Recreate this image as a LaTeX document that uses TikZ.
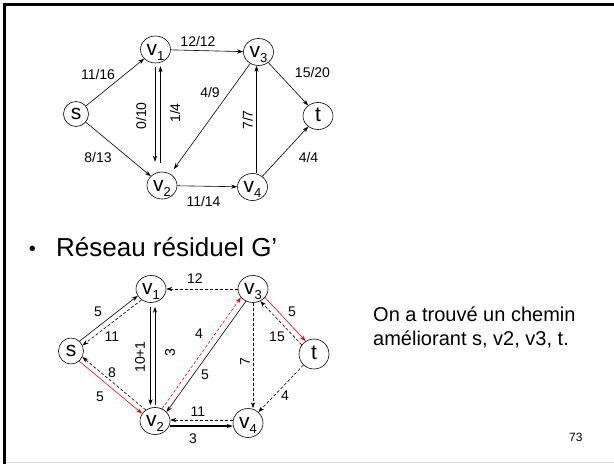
\documentclass[tikz,border=0pt]{standalone}
\usepackage{fontspec}
\setmainfont{Liberation Sans}
\usetikzlibrary{shapes.geometric,arrows.meta}
\newcommand\vsub[1]{v\raisebox{-0.25em}{\fontsize{13}{13}\selectfont #1}}
\definecolor{pptred}{RGB}{255,0,0}
\begin{document}
\begin{tikzpicture}[x=1pt,y=-1pt,
  vtx/.style={draw,ellipse,line width=0.6pt,minimum width=30pt,minimum height=27pt,inner sep=0pt,text height=11pt,text depth=0pt,font=\fontsize{21}{21}\selectfont},
  svtx/.style={vtx,minimum width=25pt,minimum height=25pt},
  arr/.style={line width=0.6pt,-{Stealth[length=6pt,width=4.2pt]}},
  dsh/.style={dash pattern=on 3pt off 2pt},
  rd/.style={draw=pptred,color=pptred},
  lbl/.style={inner sep=0pt,font=\fontsize{14}{14}\selectfont},
  rlbl/.style={lbl,rotate=90}]
\useasboundingbox (0,0) rectangle (614,464);
% frame
\draw[line width=3pt] (4.5,464) -- (4.5,4.5) -- (614,4.5);
\draw[black!15,line width=1pt] (6,462.5) -- (614,462.5);

% ---------- top graph ----------
\node[svtx] (ts) at (76,114) {s};
\node[vtx] (tv1) at (155.5,49.5) {\vsub1};
\node[vtx] (tv3) at (258.5,52) {\vsub3};
\node[vtx] (tt) at (318,116) {t};
\node[vtx] (tv2) at (162,185.5) {\vsub2};
\node[vtx] (tv4) at (252.5,187) {\vsub4};

\draw[arr] (ts) -- (tv1);
\draw[arr] (ts) -- (tv2);
\draw[arr] (tv1) -- (tv3);
\draw[arr,shorten <=4pt,shorten >=10pt] ([xshift=-0.5]tv1.south) -- ([xshift=-0.5]tv1.south |- tv2.north);
\draw[arr,shorten <=9pt,shorten >=3pt] ([xshift=5]tv1.south |- tv2.north) -- ([xshift=5]tv1.south);
\draw[arr,shorten >=6pt] (tv3) -- (tv2);
\draw[arr] ([xshift=4]tv4.north) -- ([xshift=4]tv4.north |- tv3.south);
\draw[arr] (tv3) -- (tt);
\draw[arr] (tv4) -- (tt);
\draw[arr] (tv2) -- (tv4);

\node[lbl] (l1) at (98,74) {11/16};
\node[lbl] (l2) at (98,157.5) {8/13};
\node[lbl] (l3) at (198,41) {12/12};
\node[lbl] (l4) at (312.5,72.5) {15/20};
\node[lbl] (l5) at (210,92) {4/9};
\node[rlbl] (l6) at (141,116) {0/10};
\node[rlbl] (l7) at (175,113) {1/4};
\node[rlbl] (l8) at (247.5,120) {7/7};
\node[lbl] (l9) at (308.5,157.5) {4/4};
\node[lbl] (l10) at (203.5,201) {11/14};

% ---------- title ----------
\node[anchor=base,inner sep=0pt,font=\fontsize{20}{20}\selectfont] (bul) at (32.5,255.7) {•};
\node[anchor=base west,inner sep=0pt,font=\fontsize{26}{26}\selectfont] (title) at (56,256.5) {Réseau résiduel G’};

% ---------- bottom graph ----------
\node[svtx,minimum height=26pt] (bs) at (71,351) {s};
\node[vtx] (bv1) at (151,289) {\vsub1};
\node[vtx] (bv3) at (253,289) {\vsub3};
\node[vtx,minimum height=30pt] (bt) at (314,354) {t};
\node[vtx] (bv2) at (155,421) {\vsub2};
\node[vtx,minimum height=29pt] (bv4) at (248,423) {\vsub4};

\draw[arr] (bs.49) -- (bv1.207);
\draw[arr,dsh] (bv1.229) -- (bs.26);
\draw[arr,rd] (bs.-51) -- (bv2.150);
\draw[arr,dsh] (bv2.130) -- (bs.-28);
\draw[arr,shorten <=4pt,shorten >=2pt] ([xshift=-0.5]bv1.south) -- ([xshift=-0.5]bv1.south |- bv2.north);
\draw[arr,shorten <=2pt,shorten >=4pt] ([xshift=4]bv1.south |- bv2.north) -- ([xshift=4]bv1.south);
\draw[arr,dsh] (bv3) -- (bv1);
\draw[arr,dsh,rd] (bv2.60) -- (bv3.215);
\draw[arr] (bv3.240) -- (bv2.38);
\draw[arr,dsh] (bv3.south) -- (bv3.south |- bv4.north);
\draw[arr,rd] (bv3.-35) -- (bt.123);
\draw[arr,dsh] (bt.143) -- (bv3.-59);
\draw[arr,dsh] (bt) -- (bv4);
\draw[arr,dsh] ([yshift=3]bv4.west) -- ([yshift=3]bv4.west -| bv2.east);
\draw[arr,line width=1.1pt] ([yshift=-3]bv4.west -| bv2.east) -- ([yshift=-3]bv4.west);

\node[lbl] (m1) at (98,312) {5};
\node[lbl] (m2) at (112,337) {11};
\node[lbl] (m3) at (100,397) {5};
\node[lbl] (m4) at (112,373) {8};
\node[rlbl] (m5) at (140,357) {10+1};
\node[rlbl] (m6) at (170,353) {3};
\node[lbl] (m7) at (195,279) {12};
\node[lbl] (m8) at (199,334) {4};
\node[lbl] (m9) at (205,375) {5};
\node[rlbl] (m10) at (245,362) {7};
\node[lbl] (m11) at (292,312) {5};
\node[lbl] (m12) at (277,337) {15};
\node[lbl] (m13) at (285,396) {4};
\node[lbl] (m14) at (198,412) {11};
\node[lbl] (m15) at (193,439) {3};

% ---------- note ----------
\node[anchor=base west,inner sep=0pt,font=\fontsize{20}{20}\selectfont] (note1) at (373,321) {On a trouvé un chemin};
\node[anchor=base west,inner sep=0pt,font=\fontsize{20}{20}\selectfont] (note2) at (373,345.5) {améliorant s, v2, v3, t.};
\node[anchor=base west,inner sep=0pt,font=\fontsize{12}{12}\selectfont] (pg) at (569,441) {73};
\end{tikzpicture}
\end{document}
